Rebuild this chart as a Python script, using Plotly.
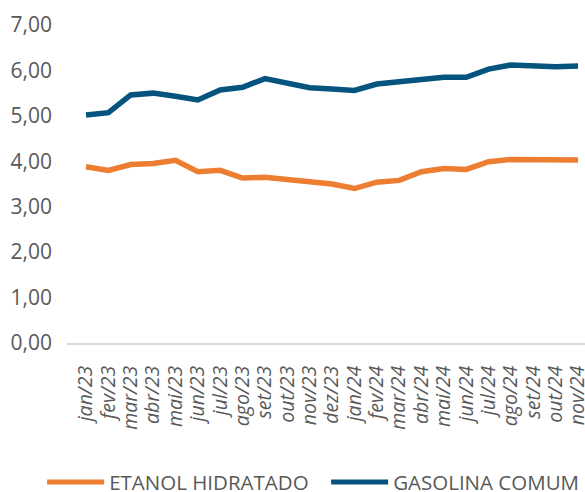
import plotly.graph_objects as go

months = ["jan/23", "fev/23", "mar/23", "abr/23", "mai/23", "jun/23", "jul/23", "ago/23",
          "set/23", "out/23", "nov/23", "dez/23", "jan/24", "fev/24", "mar/24", "abr/24",
          "mai/24", "jun/24", "jul/24", "ago/24", "set/24", "out/24", "nov/24"]

etanol = [3.88, 3.80, 3.93, 3.95, 4.02, 3.77, 3.80, 3.63, 3.65, 3.61, 3.55, 3.50,
          3.40, 3.54, 3.58, 3.77, 3.84, 3.82, 3.99, 4.04, 4.03, 4.02, 4.03]

gasolina = [5.02, 5.07, 5.46, 5.50, 5.43, 5.35, 5.57, 5.63, 5.82, 5.73, 5.62, 5.59,
            5.56, 5.70, 5.74, 5.79, 5.85, 5.85, 6.03, 6.12, 6.09, 6.08, 6.10]

y_ticks = [0, 1, 2, 3, 4, 5, 6, 7]

GREY = "#595959"
FONT = "Open Sans"

fig = go.Figure()
fig.add_trace(go.Scatter(x=months, y=etanol, mode="lines", name="ETANOL HIDRATADO",
                         line=dict(color="#ED7D31", width=5.5)))
fig.add_trace(go.Scatter(x=months, y=gasolina, mode="lines", name="GASOLINA COMUM",
                         line=dict(color="#04547E", width=5.5)))

fig.update_layout(
    width=585, height=492,
    margin=dict(l=67, r=0, t=25, b=149, autoexpand=False),
    paper_bgcolor="white", plot_bgcolor="white",
    separators=",.",
    font=dict(family=FONT, color=GREY),
    showlegend=True,
    legend=dict(orientation="h", x=-0.048, xanchor="left", y=-0.438, yanchor="middle",
                font=dict(size=20.5, color=GREY, family=FONT),
                itemwidth=57, traceorder="normal", itemsizing="constant",
                entrywidth=212, entrywidthmode="pixels",
                bgcolor="rgba(0,0,0,0)"),
    xaxis=dict(type="category", range=[-0.85, 22.31], showgrid=False, zeroline=False,
               showline=True, linecolor="#D9D9D9", linewidth=2, automargin=False,
               tickmode="array", tickvals=months, ticktext=months,
               tickangle=-90, ticks="", ticklabelstandoff=13,
               tickfont=dict(size=19.5, color=GREY, family=FONT, style="italic")),
    yaxis=dict(range=[0, 7], tickvals=y_ticks, tickformat=".2f", showgrid=False,
               zeroline=False, showline=False, ticks="", ticklabelstandoff=14,
               automargin=False,
               tickfont=dict(size=21, color=GREY, family=FONT)),
)

fig.write_html("out.html", config={"displayModeBar": False},
               post_script="document.body.style.margin='0';document.body.style.overflow='hidden';")
